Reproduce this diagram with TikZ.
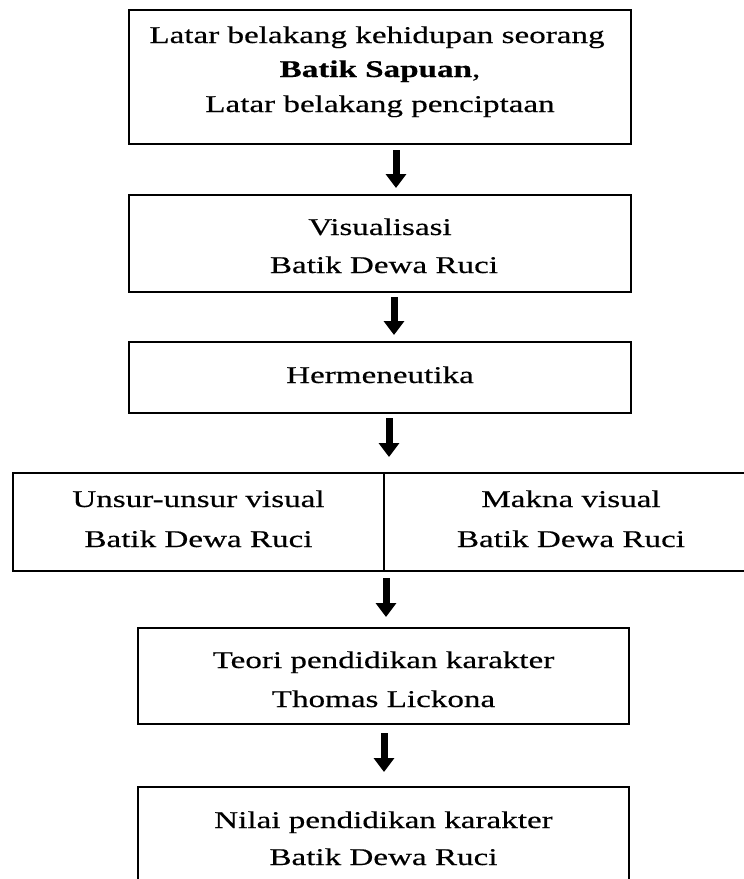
\documentclass[tikz,border=0pt]{standalone}
\usepackage{fontspec}
\setmainfont[FakeStretch=1.38,FakeBold=0.4]{Liberation Serif}
\usetikzlibrary{arrows.meta}
\begin{document}
\begin{tikzpicture}[x=1pt,y=-1pt,
  box/.style={draw=black,line width=1.6pt,rectangle,inner sep=0pt},
  txt/.style={inner sep=0pt,anchor=base,font=\fontsize{24pt}{35pt}\selectfont},
  flowarrow/.style={line width=7pt,-{Triangle[width=20pt,length=14pt]}}]
\clip (0,0) rectangle (744,879);
\fill[white] (0,0) rectangle (744,879);
% boxes
\node[box,minimum width=502pt,minimum height=134pt] (b1) at (380,77) {};
\node[box,minimum width=502pt,minimum height=97pt] (b2) at (380,243.5) {};
\node[box,minimum width=502pt,minimum height=71pt] (b3) at (380,377.5) {};
\node[box,minimum width=371pt,minimum height=98pt] (b4l) at (198.5,522) {};
\node[box,minimum width=374pt,minimum height=98pt] (b4r) at (571,522) {};
\node[box,minimum width=491pt,minimum height=96pt] (b5) at (383.5,676) {};
\node[box,minimum width=491pt,minimum height=98pt] (b6) at (383.5,836) {};
% texts
\node[txt] (t1a) at (377,43) {Latar belakang kehidupan seorang};
\node[txt] (t1b) at (380,77) {\textbf{Batik Sapuan},};
\node[txt] (t1c) at (380,112) {Latar belakang penciptaan};
\node[txt] (t2a) at (380,235) {Visualisasi};
\node[txt] (t2b) at (384,273) {Batik Dewa Ruci};
\node[txt] (t3) at (380,383) {Hermeneutika};
\node[txt] (t4a) at (198.5,507) {Unsur-unsur visual};
\node[txt] (t4b) at (198.5,547) {Batik Dewa Ruci};
\node[txt] (t4c) at (571,507) {Makna visual};
\node[txt] (t4d) at (571,547) {Batik Dewa Ruci};
\node[txt] (t5a) at (383.5,668) {Teori pendidikan karakter};
\node[txt] (t5b) at (383.5,707) {Thomas Lickona};
\node[txt] (t6a) at (383.5,828) {Nilai pendidikan karakter};
\node[txt] (t6b) at (383.5,865) {Batik Dewa Ruci};
% arrows
\coordinate (a1s) at (396,150); \coordinate (a1e) at (396,188);
\coordinate (a2s) at (394,297); \coordinate (a2e) at (394,335);
\coordinate (a3s) at (389,418); \coordinate (a3e) at (389,457);
\coordinate (a4s) at (386,578); \coordinate (a4e) at (386,617);
\coordinate (a5s) at (384,733); \coordinate (a5e) at (384,772);
\draw[flowarrow] (a1s) -- (a1e);
\draw[flowarrow] (a2s) -- (a2e);
\draw[flowarrow] (a3s) -- (a3e);
\draw[flowarrow] (a4s) -- (a4e);
\draw[flowarrow] (a5s) -- (a5e);
\end{tikzpicture}
\end{document}
